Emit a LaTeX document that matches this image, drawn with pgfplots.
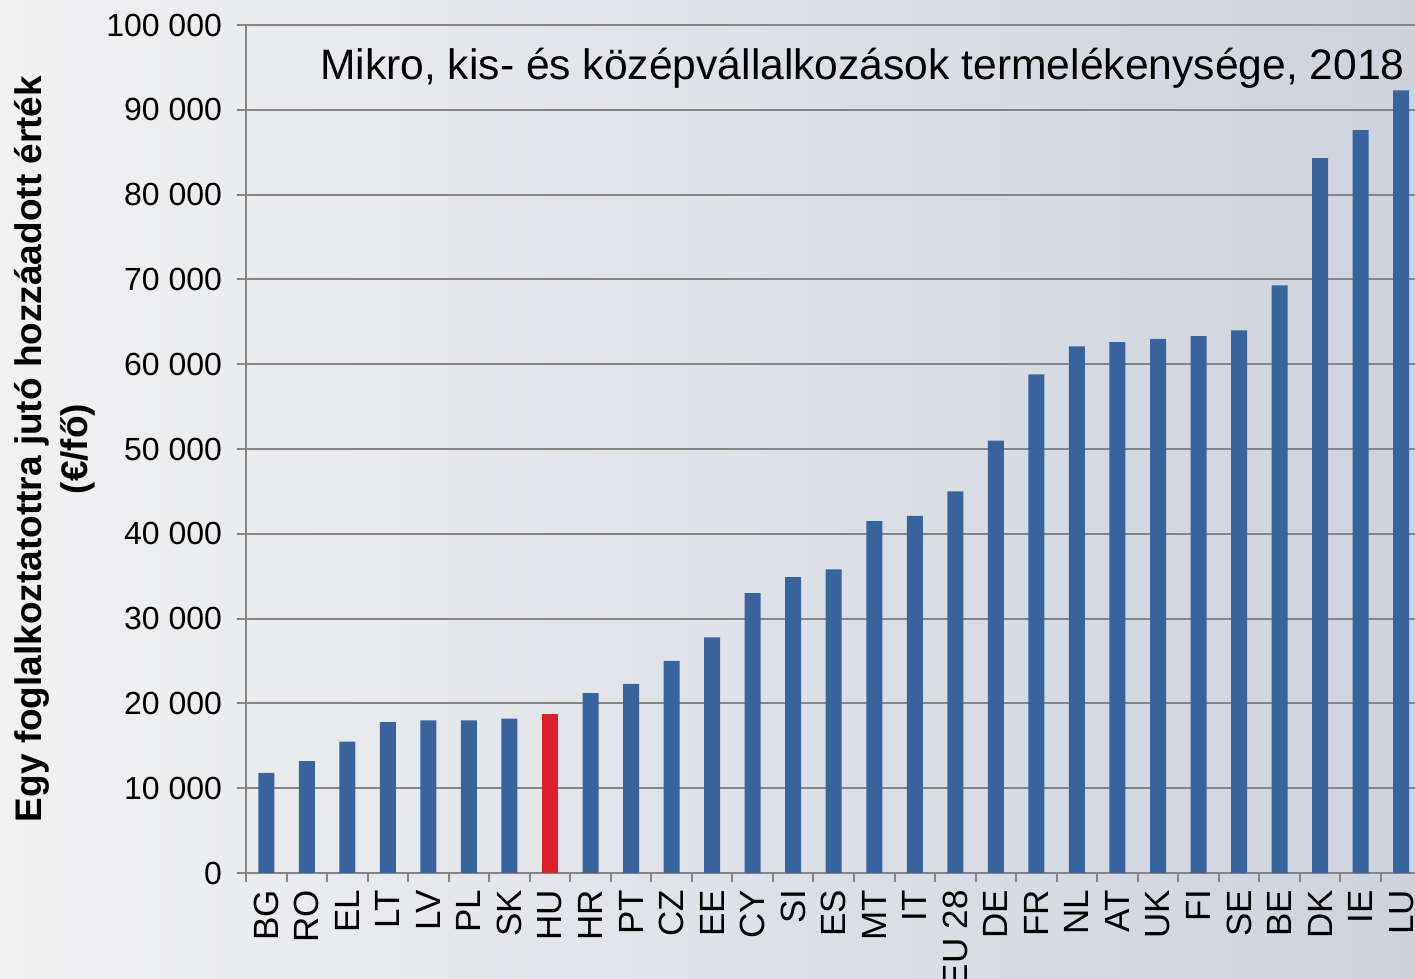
\documentclass[border=0pt]{standalone}
\usepackage{fontspec}
\setmainfont{Liberation Sans}
\usepackage{pgfplots}
\pgfplotsset{compat=1.18}
\definecolor{barblue}{HTML}{38649E}
\definecolor{hured}{HTML}{DC1F28}
\definecolor{gridgray}{HTML}{858585}
\definecolor{bgleft}{HTML}{F1F1F2}
\definecolor{bgmid}{HTML}{E9EAED}
\definecolor{bgright}{HTML}{CDD3DD}
\begin{document}
\begin{tikzpicture}
\shade[left color=bgleft, middle color=bgmid, right color=bgright] (0,0) rectangle (707.5pt,489.5pt);
\begin{axis}[
  at={(123pt,53pt)}, anchor=south west,
  scale only axis, width=584.5pt, height=424pt,
  xmin=-0.5, xmax=28.34, ymin=0, ymax=100000,
  axis lines*=left,
  axis line style={gridgray, line width=1pt},
  tick style={gridgray, line width=1pt},
  tick align=outside,
  major tick length=4.5pt,
  ytick={0,10000,...,100000},
  yticklabels={0,10 000,20 000,30 000,40 000,50 000,60 000,70 000,80 000,90 000,100 000},
  yticklabel style={font=\fontsize{16}{19}\selectfont, xshift=-4pt},
  ymajorgrids,
  grid style={gridgray, line width=1pt},
  xtick={-0.5,0.5,...,28.5},
  xticklabels={},
  extra x ticks={0,1,...,28},
  extra x tick labels={BG,RO,EL,LT,LV,PL,SK,HU,HR,PT,CZ,EE,CY,SI,ES,MT,IT,EU 28,DE,FR,NL,AT,UK,FI,SE,BE,DK,IE,LU},
  extra x tick style={major tick length=0pt, xticklabel style={rotate=90, anchor=east, font=\fontsize{17.5}{20}\selectfont, xshift=-5pt}},
  ylabel={Egy foglalkoztatottra jutó hozzáadott érték\\(€/fő)},
  ylabel style={at={(axis description cs:-0.1634,0.5)}, anchor=center, align=center, font=\bfseries\fontsize{18.5}{23}\selectfont},
]
\addplot[ybar, bar width=8pt, bar shift=0pt, fill=barblue, draw=none] coordinates {
(0,11800) (1,13200) (2,15500) (3,17800) (4,18000) (5,18000) (6,18200)
(8,21200) (9,22300) (10,25000) (11,27800) (12,33000) (13,34900) (14,35800)
(15,41500) (16,42100) (17,45000) (18,51000) (19,58800) (20,62100) (21,62600)
(22,63000) (23,63300) (24,64000) (25,69300) (26,84300) (27,87600) (28,92300)
};
\addplot[ybar, bar width=8pt, bar shift=0pt, fill=hured, draw=none] coordinates {(7,18800)};
\node[anchor=east, inner sep=0pt, font=\fontsize{21.3}{25}\selectfont] at (rel axis cs:0.9915,0.949) {Mikro, kis- és középvállalkozások termelékenysége, 2018};
\end{axis}
\pgfresetboundingbox
\useasboundingbox (0,0) rectangle (707.5pt,489.5pt);
\end{tikzpicture}
\end{document}
